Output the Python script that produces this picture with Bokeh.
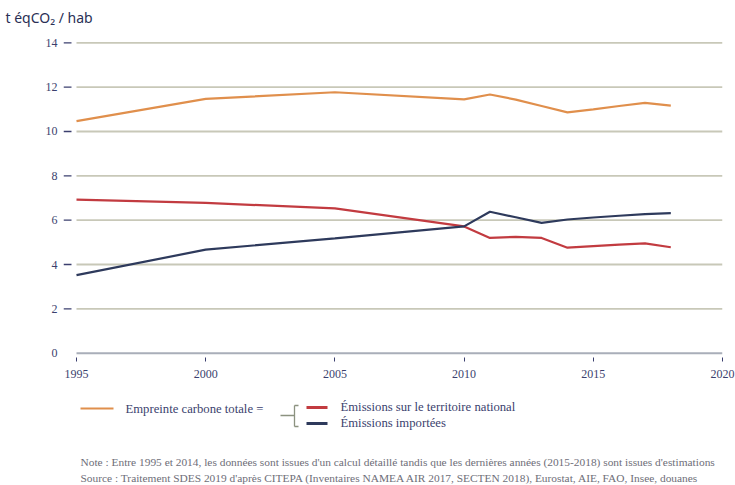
from bokeh.plotting import figure
from bokeh.models import Range1d, FixedTicker
from bokeh.layouts import column
from bokeh.core.properties import value
from bokeh.embed import file_html
from bokeh.resources import INLINE

# ---- data ----
years = [1995, 2000, 2005, 2010, 2011, 2012, 2013, 2014, 2015, 2016, 2017, 2018]
empreinte_totale = [10.47, 11.47, 11.77, 11.45, 11.67, 11.44, 11.15, 10.86, 11.0, 11.15, 11.29, 11.17]
emissions_territoire = [6.93, 6.78, 6.53, 5.72, 5.2, 5.25, 5.2, 4.76, 4.83, 4.9, 4.95, 4.78]
emissions_importees = [3.52, 4.67, 5.18, 5.72, 6.38, 6.13, 5.88, 6.03, 6.12, 6.2, 6.27, 6.32]

x_ticks = [1995, 2000, 2005, 2010, 2015, 2020]
y_ticks = [0, 2, 4, 6, 8, 10, 12, 14]
y_title = "t éqCO₂ / hab"
series_labels = ["Empreinte carbone totale =",
                 "Émissions sur le territoire national",
                 "Émissions importées"]
notes = ["Note : Entre 1995 et 2014, les données sont issues d'un calcul détaillé tandis que les dernières années (2015-2018) sont issues d'estimations",
         "Source : Traitement SDES 2019 d'après CITEPA (Inventaires NAMEA AIR 2017, SECTEN 2018), Eurostat, AIE, FAO, Insee, douanes"]

ORANGE = "#e08f4c"
RED = "#c23b40"
NAVY = "#2e3a5c"
TXT = "#3b3f6e"
GRID = "#c8c8b8"
AXIS = "#a9aeb9"
SERIF = "Liberation Serif"
W = 735

# ---- header (y-axis title) ----
h = figure(width=W, height=30, output_backend="svg", toolbar_location=None,
           x_range=Range1d(0, W), y_range=Range1d(30, 0),
           x_axis_type=None, y_axis_type=None, min_border=0,
           min_border_left=0, min_border_right=0, min_border_top=0, min_border_bottom=0)
h.frame_align = False
h.outline_line_color = None
h.grid.visible = False
h.text(x=[5], y=[17], text=[y_title], text_font=value("Noto Sans"), text_font_size="14px",
       text_baseline="middle", text_color="#2a2f55")

# ---- main figure ----
p = figure(width=W, height=360, output_backend="svg", toolbar_location=None,
           x_range=Range1d(1994.497, 2020), y_range=Range1d(-0.194, 14.555),
           min_border_left=63, min_border_right=13, min_border_top=0, min_border_bottom=33)
p.frame_align = False
p.outline_line_color = None
p.grid.visible = False

ya = p.yaxis[0]
ya.ticker = FixedTicker(ticks=y_ticks)
ya.axis_line_color = None
ya.major_tick_line_color = None
ya.major_tick_out = 0
ya.major_tick_in = 0
ya.minor_tick_line_color = None
ya.major_label_standoff = 6
ya.major_label_text_font = SERIF
ya.major_label_text_font_size = "12px"
ya.major_label_text_color = TXT

xa = p.xaxis[0]
xa.ticker = FixedTicker(ticks=x_ticks)
xa.axis_line_color = None
xa.major_tick_in = 0
xa.major_tick_out = 4
xa.major_tick_line_color = TXT
xa.major_tick_line_width = 1
xa.minor_tick_line_color = None
xa.major_label_standoff = 8
xa.major_label_text_font = SERIF
xa.major_label_text_font_size = "12px"
xa.major_label_text_color = TXT

grid_y = y_ticks[1:]
x_left = x_ticks[0]
x_right = x_ticks[-1]
# tick dashes (left of the gridlines, not at 0)
dash_x0 = p.x_range.start
dash_x1 = x_left - 5 / 25.84
p.segment(x0=[dash_x0] * len(grid_y), x1=[dash_x1] * len(grid_y), y0=grid_y, y1=grid_y,
          line_color=TXT, line_width=1.3)
# gridlines and baseline
p.segment(x0=[x_left] * len(grid_y), x1=[x_right] * len(grid_y),
          y0=grid_y, y1=grid_y, line_color=GRID, line_width=1.8)
p.segment(x0=[x_left], x1=[x_right], y0=[0], y1=[0], line_color=AXIS, line_width=2)

p.line(years, empreinte_totale, line_color=ORANGE, line_width=2.2)
p.line(years, emissions_territoire, line_color=RED, line_width=2.2)
p.line(years, emissions_importees, line_color=NAVY, line_width=2.2)

# ---- legend + notes (pixel coordinates) ----
q = figure(width=W, height=95, output_backend="svg", toolbar_location=None,
           x_range=Range1d(0, W), y_range=Range1d(95, 0),
           x_axis_type=None, y_axis_type=None, min_border=0,
           min_border_left=0, min_border_right=0, min_border_top=0, min_border_bottom=0)
q.frame_align = False
q.outline_line_color = None
q.grid.visible = False

q.segment(x0=[80, 306, 306], x1=[113, 327, 327], y0=[18, 17, 33], y1=[18, 17, 33],
          line_color=[ORANGE, RED, NAVY], line_width=[2.2, 3, 3])
BR = "#8c9280"
q.segment(x0=[280, 294, 294, 294], x1=[294, 294, 298, 298],
          y0=[25, 15, 15, 36], y1=[25, 36, 15, 36], line_color=BR, line_width=1.3)

q.text(x=[125, 340, 340], y=[18, 16, 32], text=series_labels,
       text_font=value(SERIF), text_font_size="12.7px", text_baseline="middle",
       text_color=TXT)
q.text(x=[80, 80], y=[71, 87], text=notes,
       text_font=value(SERIF), text_font_size="11.4px", text_baseline="middle",
       text_color="#6e6e78")

layout = column(h, p, q, spacing=0)
open("out.html", "w").write(file_html(layout, INLINE))
